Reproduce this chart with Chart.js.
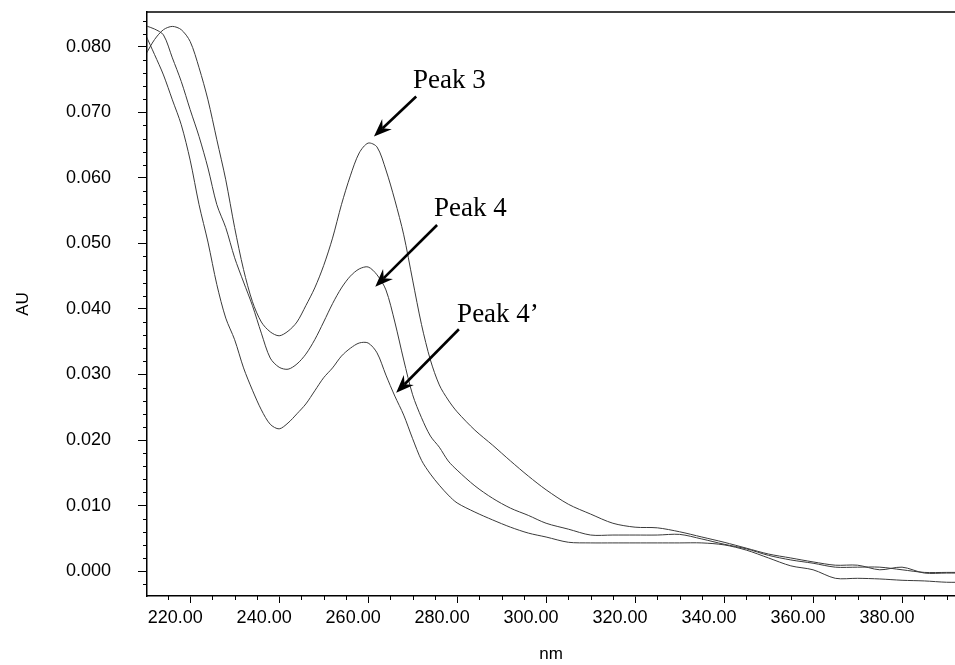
<!DOCTYPE html>
<html>
<head>
<meta charset="utf-8">
<script src="https://cdn.jsdelivr.net/npm/chart.js@4.4.0/dist/chart.umd.min.js"></script>
<style>
  html, body { margin: 0; padding: 0; background: #fff; }
  canvas { display: block; }
</style>
</head>
<body>
<canvas id="spectra" width="955" height="665"></canvas>
<script>
// wavelength grid (nm) shared by the three spectra
let wavelengths = [210, 212, 214, 216, 218, 220, 222, 224, 226, 228, 230, 232, 234, 236, 238, 240,
  242, 244, 246, 248, 250, 252, 254, 256, 258, 260, 262, 264, 266, 268, 270, 272, 274, 276, 278, 280,
  284, 288, 292, 296, 300, 305, 310, 315, 320, 325, 330, 335, 340, 345, 350, 355, 360, 365, 370,
  375, 380, 385, 390, 395];

// absorbance (AU)
let peak3 = [0.0788, 0.0811, 0.0826, 0.0831, 0.0826, 0.0808, 0.0768, 0.0719, 0.0658, 0.0597, 0.0524,
  0.0460, 0.0411, 0.0380, 0.0365, 0.0359, 0.0366, 0.0380, 0.0405, 0.0432, 0.0466, 0.0508, 0.0559,
  0.0603, 0.0638, 0.0653, 0.0647, 0.0612, 0.0566, 0.0513, 0.0444, 0.0376, 0.0322, 0.0284, 0.0261,
  0.0243, 0.0215, 0.0192, 0.0168, 0.0145, 0.0124, 0.0102, 0.0087, 0.0073, 0.0067, 0.0066, 0.0060,
  0.0052, 0.0044, 0.0035, 0.0026, 0.0020, 0.0014, 0.0009, 0.0009, 0.0002, 0.0006, -0.0003, -0.0003,
  -0.0003];
let peak4 = [0.0832, 0.0827, 0.0818, 0.0783, 0.0747, 0.0704, 0.0663, 0.0615, 0.0559, 0.0524, 0.0478,
  0.0441, 0.0405, 0.0363, 0.0325, 0.0311, 0.0308, 0.0316, 0.0331, 0.0353, 0.0380, 0.0408, 0.0432,
  0.0450, 0.0461, 0.0464, 0.0452, 0.0429, 0.0380, 0.0322, 0.0269, 0.0234, 0.0206, 0.0189, 0.0168,
  0.0154, 0.0130, 0.0111, 0.0096, 0.0085, 0.0073, 0.0064, 0.0055, 0.0055, 0.0055, 0.0055, 0.0056,
  0.0049, 0.0041, 0.0034, 0.0024, 0.0017, 0.0012, 0.0006, 0.0006, 0.0006, 0.0002, -0.0002, -0.0002,
  -0.0002];
let peak4b = [0.0818, 0.0788, 0.0757, 0.0719, 0.0681, 0.0627, 0.0559, 0.0502, 0.0437, 0.0386, 0.0353,
  0.0310, 0.0276, 0.0246, 0.0224, 0.0217, 0.0226, 0.0240, 0.0255, 0.0275, 0.0295, 0.0310, 0.0328,
  0.0340, 0.0348, 0.0348, 0.0333, 0.0299, 0.0267, 0.0238, 0.0202, 0.0169, 0.0148, 0.0131, 0.0116,
  0.0104, 0.0090, 0.0078, 0.0067, 0.0058, 0.0052, 0.0044, 0.0043, 0.0043, 0.0043, 0.0043, 0.0043,
  0.0043, 0.0040, 0.0032, 0.0020, 0.0008, 0.0002, -0.0011, -0.0011, -0.0012, -0.0014, -0.0015,
  -0.0017, -0.0017];

let seriesNames = ['Peak 3', 'Peak 4', 'Peak 4\u2019'];
let seriesValues = [peak3, peak4, peak4b];

// labels + arrows, given in data units (nm, AU)
let notes = [
  { text: 'Peak 3',       at: [270.1, 0.0737], from: [270.8, 0.0724], to: [261.3, 0.0663] },
  { text: 'Peak 4',       at: [274.8, 0.0542], from: [275.5, 0.0528], to: [261.6, 0.0434] },
  { text: 'Peak 4\u2019', at: [280.0, 0.0380], from: [280.4, 0.0369], to: [266.3, 0.0272] }
];

let toPoints = function (ys) {
  return wavelengths.map(function (w, i) { return { x: w, y: ys[i] }; });
};

let minorTicks = {
  id: 'minorTicks',
  afterDraw: function (chart) {
    let ctx = chart.ctx;
    let xs = chart.scales.x, ys = chart.scales.y;
    let area = chart.chartArea;
    ctx.save();
    ctx.strokeStyle = '#000';
    ctx.lineWidth = 1;
    ctx.beginPath();
    for (let w = 215; w <= 390; w += 5) {
      if (w % 20 === 0) continue;
      let px = Math.round(xs.getPixelForValue(w)) + 0.5;
      ctx.moveTo(px, area.bottom);
      ctx.lineTo(px, area.bottom + 4);
    }
    for (let k = -1; k <= 42; k++) {
      if (k % 5 === 0) continue;
      let v = k * 0.002;
      if (v < ys.min || v > ys.max) continue;
      let py = Math.round(ys.getPixelForValue(v)) + 0.5;
      ctx.moveTo(area.left - 4, py);
      ctx.lineTo(area.left, py);
    }
    ctx.stroke();
    // frame line across the top
    ctx.lineWidth = 1.5;
    ctx.beginPath();
    ctx.moveTo(area.left, area.top);
    ctx.lineTo(area.right, area.top);
    ctx.stroke();
    ctx.restore();
  }
};

let peakNotes = {
  id: 'peakNotes',
  afterDraw: function (chart) {
    let ctx = chart.ctx;
    let xs = chart.scales.x, ys = chart.scales.y;
    ctx.save();
    ctx.fillStyle = '#000';
    ctx.strokeStyle = '#000';
    ctx.font = '27px "Liberation Serif", "Times New Roman", serif';
    ctx.textAlign = 'left';
    ctx.textBaseline = 'alphabetic';
    notes.forEach(function (n) {
      ctx.fillText(n.text, xs.getPixelForValue(n.at[0]), ys.getPixelForValue(n.at[1]));
      let x1 = xs.getPixelForValue(n.from[0]), y1 = ys.getPixelForValue(n.from[1]);
      let x2 = xs.getPixelForValue(n.to[0]), y2 = ys.getPixelForValue(n.to[1]);
      let a = Math.atan2(y2 - y1, x2 - x1);
      let len = 18, half = 7, notch = 12;
      ctx.lineWidth = 2.6;
      ctx.beginPath();
      ctx.moveTo(x1, y1);
      ctx.lineTo(x2 - Math.cos(a) * notch, y2 - Math.sin(a) * notch);
      ctx.stroke();
      ctx.beginPath();
      ctx.moveTo(x2, y2);
      ctx.lineTo(x2 - Math.cos(a) * len - Math.sin(a) * half, y2 - Math.sin(a) * len + Math.cos(a) * half);
      ctx.lineTo(x2 - Math.cos(a) * notch, y2 - Math.sin(a) * notch);
      ctx.lineTo(x2 - Math.cos(a) * len + Math.sin(a) * half, y2 - Math.sin(a) * len - Math.cos(a) * half);
      ctx.closePath();
      ctx.fill();
    });
    ctx.restore();
  }
};

let tickFont = { family: '"Liberation Sans", Arial, sans-serif', size: 18 };
let titleFont = { family: '"Liberation Sans", Arial, sans-serif', size: 17 };

new Chart(document.getElementById('spectra'), {
  type: 'line',
  data: {
    datasets: seriesValues.map(function (vals, i) {
      return {
        label: seriesNames[i],
        data: toPoints(vals),
        borderColor: '#3a3a3a',
        borderWidth: 1,
        pointRadius: 0,
        tension: 0.3,
        fill: false
      };
    })
  },
  options: {
    responsive: false,
    animation: false,
    layout: { padding: { top: 12, right: 0, bottom: 0, left: 0 } },
    plugins: { legend: { display: false }, tooltip: { enabled: false } },
    scales: {
      x: {
        type: 'linear',
        min: 210.3,
        max: 391.9,
        afterFit: function (s) { s.height = 69; s.paddingLeft = 0; s.paddingRight = 0; },
        grid: { drawOnChartArea: false, tickLength: 7, tickColor: '#000' },
        border: { color: '#000', width: 1.5 },
        ticks: {
          stepSize: 20,
          includeBounds: false,
          autoSkip: false,
          maxRotation: 0,
          padding: 4,
          labelOffset: -15,
          color: '#000',
          font: tickFont,
          callback: function (v) { return v.toFixed(2); }
        },
        title: { display: true, text: 'nm', color: '#000', font: titleFont, padding: { top: 0, bottom: 0 } }
      },
      y: {
        min: -0.0038,
        max: 0.0853,
        afterFit: function (s) { s.width = 147; s.paddingTop = 0; s.paddingBottom = 0; },
        grid: { drawOnChartArea: false, tickLength: 9, tickColor: '#000' },
        border: { color: '#000', width: 1.5 },
        ticks: {
          stepSize: 0.01,
          includeBounds: false,
          padding: 27,
          color: '#000',
          font: tickFont,
          callback: function (v) { return Math.abs(v) < 1e-9 ? '0.000' : v.toFixed(3); }
        },
        title: { display: true, text: 'AU', color: '#000', font: titleFont, padding: { top: 13, bottom: 0 } }
      }
    }
  },
  plugins: [minorTicks, peakNotes]
});
</script>
</body>
</html>
